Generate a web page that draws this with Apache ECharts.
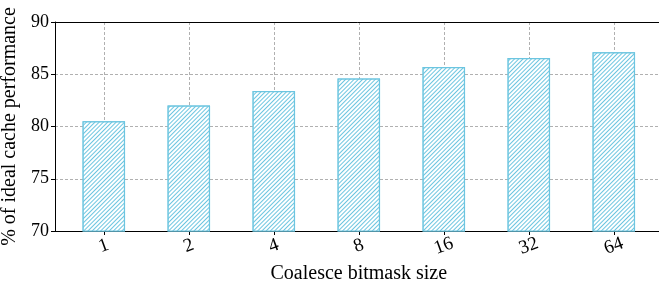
<!DOCTYPE html>
<html><head><meta charset="utf-8">
<script src="https://cdn.jsdelivr.net/npm/echarts@6/dist/echarts.min.js"></script>
<style>html,body{margin:0;padding:0;background:#fff}#c{width:659px;height:287px}</style>
</head><body><div id="c"></div>
<script>
const categories = ['1', '2', '4', '8', '16', '32', '64'];
const values = [80.5, 82.0, 83.4, 84.6, 85.7, 86.55, 87.1];
const yTicks = [70, 75, 80, 85, 90];
const xName = 'Coalesce bitmask size';
const yName = '% of ideal cache performance';

const barColor = '#6cc5e0';
const font = 'Liberation Serif';
const chart = echarts.init(document.getElementById('c'), null, {renderer: 'canvas'});
const gTop = 22, gBottom = 56;
const grid = {top: gTop, bottom: gBottom, containLabel: false, outerBoundsMode: 'none'};
chart.setOption({
  animation: false,
  grid: [
    Object.assign({left: 55, right: -10}, grid),
    Object.assign({left: 61.3, right: 2.7}, grid)
  ],
  xAxis: [
    {gridIndex: 0, type: 'value', position: 'bottom', min: 0, max: 1,
     axisLine: {show: true, onZero: false, lineStyle: {color: '#000', width: 1}},
     axisTick: {show: false}, axisLabel: {show: false}, splitLine: {show: false}},
    {gridIndex: 0, type: 'value', position: 'top', min: 0, max: 1,
     axisLine: {show: true, onZero: false, lineStyle: {color: '#000', width: 1}},
     axisTick: {show: false}, axisLabel: {show: false}, splitLine: {show: false}},
    {gridIndex: 1, type: 'category', data: categories, position: 'bottom',
     axisLine: {show: false, onZero: false},
     axisTick: {show: true, alignWithLabel: true, length: 4, lineStyle: {color: '#000'}},
     axisLabel: {rotate: 20, align: 'center', verticalAlign: 'middle', fontFamily: font, fontSize: 19, color: '#000', margin: 15},
     splitLine: {show: true, alignWithLabel: true, lineStyle: {color: '#b0b0b0', type: [3, 2], width: 1}},
     name: xName, nameLocation: 'middle', nameGap: 32,
     nameTextStyle: {fontFamily: font, fontSize: 20, color: '#000'}}
  ],
  yAxis: [
    {gridIndex: 0, type: 'value', min: yTicks[0], max: yTicks[yTicks.length - 1], interval: 5,
     axisLine: {show: true, onZero: false, lineStyle: {color: '#000', width: 1}},
     axisTick: {show: true, length: 4, lineStyle: {color: '#000'}},
     axisLabel: {fontFamily: font, fontSize: 18, color: '#000', margin: 6},
     splitLine: {show: true, lineStyle: {color: '#b0b0b0', type: [3, 2], width: 1}},
     name: yName, nameLocation: 'middle', nameGap: 23,
     nameTextStyle: {fontFamily: font, fontSize: 20, color: '#000'}},
    {gridIndex: 1, type: 'value', min: yTicks[0], max: yTicks[yTicks.length - 1], interval: 5, show: false}
  ],
  series: [{
    type: 'bar', xAxisIndex: 2, yAxisIndex: 1, data: values, barWidth: '50%',
    itemStyle: {color: '#ffffff', borderColor: barColor, borderWidth: 1.2,
      decal: {symbol: 'rect', symbolSize: 1, color: barColor, backgroundColor: '#ffffff',
              dashArrayX: [1, 0], dashArrayY: [1, 2], rotation: -Math.PI / 4}}
  }]
});
</script></body></html>
